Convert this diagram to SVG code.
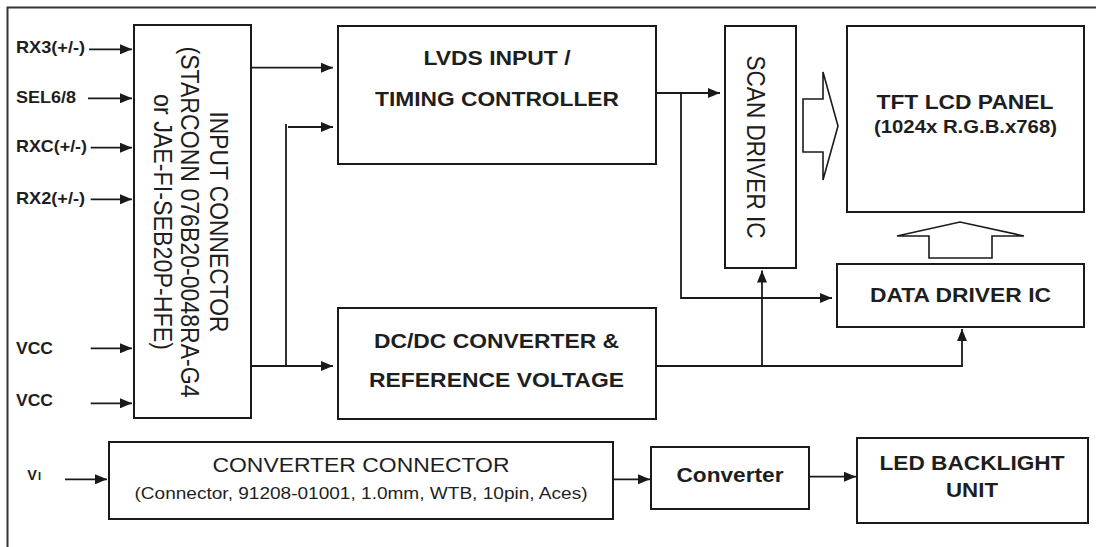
<svg xmlns="http://www.w3.org/2000/svg" width="1096" height="547" viewBox="0 0 1096 547">
<style>
  .box { fill: #fff; stroke: #1a1a1a; stroke-width: 2; }
  .hollow { fill: #fff; stroke: #1a1a1a; stroke-width: 1.6; stroke-linejoin: miter; }
  .ln { fill: none; stroke: #1a1a1a; stroke-width: 1.8; }
  .arr { fill: none; stroke: #1a1a1a; stroke-width: 1.8; marker-end: url(#ah); }
  .frame { fill: none; stroke: #333; stroke-width: 2; }
  text { font-family: "Liberation Sans", Arial, sans-serif; fill: #1e1e1e; }
  .b { font-weight: bold; font-size: 20.5px; text-anchor: middle; }
  .r { font-weight: normal; font-size: 21px; text-anchor: middle; }
  .rot { font-weight: normal; font-size: 22.7px; text-anchor: middle; }
  .lab { font-weight: bold; font-size: 16.3px; }
  .small { font-weight: bold; font-size: 17.5px; text-anchor: middle; }
  .paren { font-weight: normal; font-size: 16.8px; text-anchor: middle; }
</style>
<defs>
  <marker id="ah" viewBox="0 0 12 10" refX="12" refY="5" markerWidth="12" markerHeight="10" markerUnits="userSpaceOnUse" orient="auto">
    <path d="M0,0 L12,5 L0,10 Z" fill="#1a1a1a"/>
  </marker>
</defs>

<g id="frame">
  <path class="frame" d="M7.5,547 L7.5,7.5 L1096,7.5"/>
</g>

<g id="input-labels">
  <text class="lab" x="16" y="52.5" textLength="69" lengthAdjust="spacingAndGlyphs">RX3(+/-)</text>
  <text class="lab" x="16" y="102.5" textLength="60" lengthAdjust="spacingAndGlyphs">SEL6/8</text>
  <text class="lab" x="16" y="152.3" textLength="71" lengthAdjust="spacingAndGlyphs">RXC(+/-)</text>
  <text class="lab" x="16" y="204" textLength="69" lengthAdjust="spacingAndGlyphs">RX2(+/-)</text>
  <text class="lab" x="16" y="354.3" textLength="37" lengthAdjust="spacingAndGlyphs">VCC</text>
  <text class="lab" x="16" y="406" textLength="37" lengthAdjust="spacingAndGlyphs">VCC</text>
  <text x="27.3" y="479.5" style="font-weight:bold;font-size:14.5px">V<tspan dx="1" style="font-size:11px">I</tspan></text>
</g>

<g id="input-connector">
  <rect class="box" x="134" y="25" width="117" height="393"/>
  <text class="rot" transform="translate(210,222) scale(1.1,1) rotate(90)" textLength="221" lengthAdjust="spacingAndGlyphs">INPUT CONNECTOR</text>
  <text class="rot" transform="translate(181,222) scale(1.1,1) rotate(90)" textLength="351" lengthAdjust="spacingAndGlyphs">(STARCONN 076B20-0048RA-G4</text>
  <text class="rot" transform="translate(154,222) scale(1.1,1) rotate(90)" textLength="256" lengthAdjust="spacingAndGlyphs">or JAE-FI-SEB20P-HFE)</text>
</g>

<g id="lvds">
  <rect class="box" x="338" y="26" width="318" height="138"/>
  <text class="b" x="497" y="65" textLength="147" lengthAdjust="spacingAndGlyphs">LVDS INPUT /</text>
  <text class="b" x="497" y="105.5" textLength="244" lengthAdjust="spacingAndGlyphs">TIMING CONTROLLER</text>
</g>

<g id="dcdc">
  <rect class="box" x="338" y="308" width="318" height="111"/>
  <text class="b" x="496.5" y="348" textLength="245" lengthAdjust="spacingAndGlyphs">DC/DC CONVERTER &amp;</text>
  <text class="b" x="496.5" y="387" textLength="255" lengthAdjust="spacingAndGlyphs">REFERENCE VOLTAGE</text>
</g>

<g id="scan-driver">
  <rect class="box" x="725" y="26" width="71" height="242"/>
  <text class="rot" transform="translate(747,147) scale(1.1,1) rotate(90)" textLength="183" lengthAdjust="spacingAndGlyphs">SCAN DRIVER IC</text>
</g>

<g id="tft-panel">
  <rect class="box" x="847" y="26" width="237" height="186"/>
  <text class="b" x="965" y="109" textLength="177" lengthAdjust="spacingAndGlyphs">TFT LCD PANEL</text>
  <text class="small" x="965.5" y="132.7" textLength="183" lengthAdjust="spacingAndGlyphs">(1024x R.G.B.x768)</text>
</g>

<g id="data-driver">
  <rect class="box" x="837" y="264" width="247" height="63"/>
  <text class="b" x="960.5" y="301.7" textLength="181" lengthAdjust="spacingAndGlyphs">DATA DRIVER IC</text>
</g>

<g id="converter-connector">
  <rect class="box" x="109" y="442" width="504" height="77"/>
  <text class="r" x="361" y="472" textLength="297" lengthAdjust="spacingAndGlyphs">CONVERTER CONNECTOR</text>
  <text class="paren" x="361" y="499" textLength="453" lengthAdjust="spacingAndGlyphs">(Connector, 91208-01001, 1.0mm, WTB, 10pin, Aces)</text>
</g>

<g id="converter">
  <rect class="box" x="651" y="447" width="158" height="62"/>
  <text class="b" x="730" y="481.7" textLength="107" lengthAdjust="spacingAndGlyphs">Converter</text>
</g>

<g id="led-backlight">
  <rect class="box" x="857" y="438" width="231" height="85"/>
  <text class="b" x="972" y="470" textLength="185" lengthAdjust="spacingAndGlyphs">LED BACKLIGHT</text>
  <text class="b" x="972" y="497.3" textLength="52" lengthAdjust="spacingAndGlyphs">UNIT</text>
</g>

<g id="connectors">
  <line class="arr" x1="89" y1="49.3" x2="132" y2="49.3"/>
  <line class="arr" x1="88" y1="98.3" x2="132" y2="98.3"/>
  <line class="arr" x1="90.7" y1="147.7" x2="132" y2="147.7"/>
  <line class="arr" x1="90.7" y1="199.3" x2="132" y2="199.3"/>
  <line class="arr" x1="90.7" y1="348.3" x2="132" y2="348.3"/>
  <line class="arr" x1="90.7" y1="403.3" x2="132" y2="403.3"/>
  <line class="arr" x1="251" y1="67.7" x2="333" y2="67.7"/>
  <line class="arr" x1="251" y1="366" x2="333" y2="366"/>
  <line class="ln" x1="286" y1="124" x2="286" y2="366"/>
  <line class="arr" x1="288" y1="127" x2="333" y2="127"/>
  <line class="arr" x1="656" y1="93" x2="720" y2="93"/>
  <polyline class="arr" points="681,93 681,298 832,298"/>
  <polyline class="arr" points="656,366 962,366 962,329"/>
  <line class="arr" x1="762" y1="366" x2="762" y2="270.5"/>
  <line class="arr" x1="65" y1="479.3" x2="107" y2="479.3"/>
  <line class="arr" x1="613" y1="479.3" x2="650" y2="479.3"/>
  <line class="arr" x1="809" y1="476.7" x2="856" y2="476.7"/>
  <polygon class="hollow" points="803,99 823,99 823,72 838,126 823,180 823,152 803,152"/>
  <polygon class="hollow" points="929,258 929,236 897,236 960,222 1024,236 992,236 992,258"/>
</g>
</svg>
